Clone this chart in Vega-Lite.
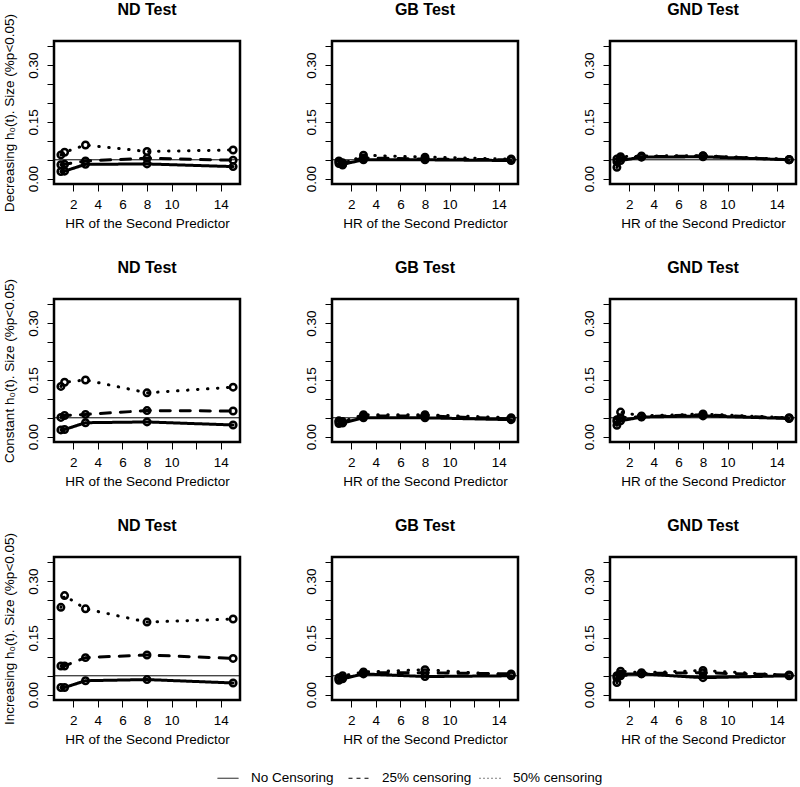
{
"$schema": "https://vega.github.io/schema/vega-lite/v6.json",
"background": "white",
"padding": {"left": 0, "top": 0, "right": 2, "bottom": 2},
"autosize": {"type": "pad"},
"bounds": "flush",
"spacing": {"row": 115, "column": 92},
"columns": 3,
"datasets": {
"d": [
{"b":"Decreasing","t":"ND","c":"No Censoring","x":1,"y":0.019},{"b":"Decreasing","t":"ND","c":"No Censoring","x":1.3,"y":0.020},{"b":"Decreasing","t":"ND","c":"No Censoring","x":3,"y":0.038},{"b":"Decreasing","t":"ND","c":"No Censoring","x":8,"y":0.039},{"b":"Decreasing","t":"ND","c":"No Censoring","x":15,"y":0.032},
{"b":"Decreasing","t":"ND","c":"25% censoring","x":1,"y":0.037},{"b":"Decreasing","t":"ND","c":"25% censoring","x":1.3,"y":0.038},{"b":"Decreasing","t":"ND","c":"25% censoring","x":3,"y":0.047},{"b":"Decreasing","t":"ND","c":"25% censoring","x":8,"y":0.054},{"b":"Decreasing","t":"ND","c":"25% censoring","x":15,"y":0.049},
{"b":"Decreasing","t":"ND","c":"50% censoring","x":1,"y":0.063},{"b":"Decreasing","t":"ND","c":"50% censoring","x":1.3,"y":0.070},{"b":"Decreasing","t":"ND","c":"50% censoring","x":3,"y":0.089},{"b":"Decreasing","t":"ND","c":"50% censoring","x":8,"y":0.072},{"b":"Decreasing","t":"ND","c":"50% censoring","x":15,"y":0.076},
{"b":"Decreasing","t":"GB","c":"No Censoring","x":1,"y":0.040},{"b":"Decreasing","t":"GB","c":"No Censoring","x":1.3,"y":0.038},{"b":"Decreasing","t":"GB","c":"No Censoring","x":3,"y":0.050},{"b":"Decreasing","t":"GB","c":"No Censoring","x":8,"y":0.050},{"b":"Decreasing","t":"GB","c":"No Censoring","x":15,"y":0.048},
{"b":"Decreasing","t":"GB","c":"25% censoring","x":1,"y":0.045},{"b":"Decreasing","t":"GB","c":"25% censoring","x":1.3,"y":0.042},{"b":"Decreasing","t":"GB","c":"25% censoring","x":3,"y":0.055},{"b":"Decreasing","t":"GB","c":"25% censoring","x":8,"y":0.052},{"b":"Decreasing","t":"GB","c":"25% censoring","x":15,"y":0.050},
{"b":"Decreasing","t":"GB","c":"50% censoring","x":1,"y":0.047},{"b":"Decreasing","t":"GB","c":"50% censoring","x":1.3,"y":0.036},{"b":"Decreasing","t":"GB","c":"50% censoring","x":3,"y":0.062},{"b":"Decreasing","t":"GB","c":"50% censoring","x":8,"y":0.057},{"b":"Decreasing","t":"GB","c":"50% censoring","x":15,"y":0.052},
{"b":"Decreasing","t":"GND","c":"No Censoring","x":1,"y":0.030},{"b":"Decreasing","t":"GND","c":"No Censoring","x":1.3,"y":0.048},{"b":"Decreasing","t":"GND","c":"No Censoring","x":3,"y":0.057},{"b":"Decreasing","t":"GND","c":"No Censoring","x":8,"y":0.058},{"b":"Decreasing","t":"GND","c":"No Censoring","x":15,"y":0.050},
{"b":"Decreasing","t":"GND","c":"25% censoring","x":1,"y":0.045},{"b":"Decreasing","t":"GND","c":"25% censoring","x":1.3,"y":0.055},{"b":"Decreasing","t":"GND","c":"25% censoring","x":3,"y":0.058},{"b":"Decreasing","t":"GND","c":"25% censoring","x":8,"y":0.060},{"b":"Decreasing","t":"GND","c":"25% censoring","x":15,"y":0.050},
{"b":"Decreasing","t":"GND","c":"50% censoring","x":1,"y":0.052},{"b":"Decreasing","t":"GND","c":"50% censoring","x":1.3,"y":0.058},{"b":"Decreasing","t":"GND","c":"50% censoring","x":3,"y":0.060},{"b":"Decreasing","t":"GND","c":"50% censoring","x":8,"y":0.061},{"b":"Decreasing","t":"GND","c":"50% censoring","x":15,"y":0.051},
{"b":"Constant","t":"ND","c":"No Censoring","x":1,"y":0.018},{"b":"Constant","t":"ND","c":"No Censoring","x":1.3,"y":0.019},{"b":"Constant","t":"ND","c":"No Censoring","x":3,"y":0.037},{"b":"Constant","t":"ND","c":"No Censoring","x":8,"y":0.039},{"b":"Constant","t":"ND","c":"No Censoring","x":15,"y":0.031},
{"b":"Constant","t":"ND","c":"25% censoring","x":1,"y":0.051},{"b":"Constant","t":"ND","c":"25% censoring","x":1.3,"y":0.056},{"b":"Constant","t":"ND","c":"25% censoring","x":3,"y":0.059},{"b":"Constant","t":"ND","c":"25% censoring","x":8,"y":0.069},{"b":"Constant","t":"ND","c":"25% censoring","x":15,"y":0.068},
{"b":"Constant","t":"ND","c":"50% censoring","x":1,"y":0.133},{"b":"Constant","t":"ND","c":"50% censoring","x":1.3,"y":0.144},{"b":"Constant","t":"ND","c":"50% censoring","x":3,"y":0.150},{"b":"Constant","t":"ND","c":"50% censoring","x":8,"y":0.116},{"b":"Constant","t":"ND","c":"50% censoring","x":15,"y":0.131},
{"b":"Constant","t":"GB","c":"No Censoring","x":1,"y":0.035},{"b":"Constant","t":"GB","c":"No Censoring","x":1.3,"y":0.036},{"b":"Constant","t":"GB","c":"No Censoring","x":3,"y":0.050},{"b":"Constant","t":"GB","c":"No Censoring","x":8,"y":0.050},{"b":"Constant","t":"GB","c":"No Censoring","x":15,"y":0.045},
{"b":"Constant","t":"GB","c":"25% censoring","x":1,"y":0.040},{"b":"Constant","t":"GB","c":"25% censoring","x":1.3,"y":0.038},{"b":"Constant","t":"GB","c":"25% censoring","x":3,"y":0.055},{"b":"Constant","t":"GB","c":"25% censoring","x":8,"y":0.055},{"b":"Constant","t":"GB","c":"25% censoring","x":15,"y":0.047},
{"b":"Constant","t":"GB","c":"50% censoring","x":1,"y":0.042},{"b":"Constant","t":"GB","c":"50% censoring","x":1.3,"y":0.040},{"b":"Constant","t":"GB","c":"50% censoring","x":3,"y":0.058},{"b":"Constant","t":"GB","c":"50% censoring","x":8,"y":0.058},{"b":"Constant","t":"GB","c":"50% censoring","x":15,"y":0.050},
{"b":"Constant","t":"GND","c":"No Censoring","x":1,"y":0.030},{"b":"Constant","t":"GND","c":"No Censoring","x":1.3,"y":0.042},{"b":"Constant","t":"GND","c":"No Censoring","x":3,"y":0.052},{"b":"Constant","t":"GND","c":"No Censoring","x":8,"y":0.055},{"b":"Constant","t":"GND","c":"No Censoring","x":15,"y":0.048},
{"b":"Constant","t":"GND","c":"25% censoring","x":1,"y":0.040},{"b":"Constant","t":"GND","c":"25% censoring","x":1.3,"y":0.050},{"b":"Constant","t":"GND","c":"25% censoring","x":3,"y":0.053},{"b":"Constant","t":"GND","c":"25% censoring","x":8,"y":0.058},{"b":"Constant","t":"GND","c":"25% censoring","x":15,"y":0.049},
{"b":"Constant","t":"GND","c":"50% censoring","x":1,"y":0.045},{"b":"Constant","t":"GND","c":"50% censoring","x":1.3,"y":0.065},{"b":"Constant","t":"GND","c":"50% censoring","x":3,"y":0.055},{"b":"Constant","t":"GND","c":"50% censoring","x":8,"y":0.060},{"b":"Constant","t":"GND","c":"50% censoring","x":15,"y":0.050},
{"b":"Increasing","t":"ND","c":"No Censoring","x":1,"y":0.019},{"b":"Increasing","t":"ND","c":"No Censoring","x":1.3,"y":0.019},{"b":"Increasing","t":"ND","c":"No Censoring","x":3,"y":0.037},{"b":"Increasing","t":"ND","c":"No Censoring","x":8,"y":0.040},{"b":"Increasing","t":"ND","c":"No Censoring","x":15,"y":0.031},
{"b":"Increasing","t":"ND","c":"25% censoring","x":1,"y":0.076},{"b":"Increasing","t":"ND","c":"25% censoring","x":1.3,"y":0.076},{"b":"Increasing","t":"ND","c":"25% censoring","x":3,"y":0.098},{"b":"Increasing","t":"ND","c":"25% censoring","x":8,"y":0.105},{"b":"Increasing","t":"ND","c":"25% censoring","x":15,"y":0.096},
{"b":"Increasing","t":"ND","c":"50% censoring","x":1,"y":0.231},{"b":"Increasing","t":"ND","c":"50% censoring","x":1.3,"y":0.262},{"b":"Increasing","t":"ND","c":"50% censoring","x":3,"y":0.227},{"b":"Increasing","t":"ND","c":"50% censoring","x":8,"y":0.192},{"b":"Increasing","t":"ND","c":"50% censoring","x":15,"y":0.200},
{"b":"Increasing","t":"GB","c":"No Censoring","x":1,"y":0.038},{"b":"Increasing","t":"GB","c":"No Censoring","x":1.3,"y":0.042},{"b":"Increasing","t":"GB","c":"No Censoring","x":3,"y":0.055},{"b":"Increasing","t":"GB","c":"No Censoring","x":8,"y":0.048},{"b":"Increasing","t":"GB","c":"No Censoring","x":15,"y":0.050},
{"b":"Increasing","t":"GB","c":"25% censoring","x":1,"y":0.042},{"b":"Increasing","t":"GB","c":"25% censoring","x":1.3,"y":0.045},{"b":"Increasing","t":"GB","c":"25% censoring","x":3,"y":0.058},{"b":"Increasing","t":"GB","c":"25% censoring","x":8,"y":0.058},{"b":"Increasing","t":"GB","c":"25% censoring","x":15,"y":0.055},
{"b":"Increasing","t":"GB","c":"50% censoring","x":1,"y":0.045},{"b":"Increasing","t":"GB","c":"50% censoring","x":1.3,"y":0.050},{"b":"Increasing","t":"GB","c":"50% censoring","x":3,"y":0.060},{"b":"Increasing","t":"GB","c":"50% censoring","x":8,"y":0.066},{"b":"Increasing","t":"GB","c":"50% censoring","x":15,"y":0.052},
{"b":"Increasing","t":"GND","c":"No Censoring","x":1,"y":0.032},{"b":"Increasing","t":"GND","c":"No Censoring","x":1.3,"y":0.055},{"b":"Increasing","t":"GND","c":"No Censoring","x":3,"y":0.055},{"b":"Increasing","t":"GND","c":"No Censoring","x":8,"y":0.045},{"b":"Increasing","t":"GND","c":"No Censoring","x":15,"y":0.050},
{"b":"Increasing","t":"GND","c":"25% censoring","x":1,"y":0.045},{"b":"Increasing","t":"GND","c":"25% censoring","x":1.3,"y":0.050},{"b":"Increasing","t":"GND","c":"25% censoring","x":3,"y":0.056},{"b":"Increasing","t":"GND","c":"25% censoring","x":8,"y":0.058},{"b":"Increasing","t":"GND","c":"25% censoring","x":15,"y":0.052},
{"b":"Increasing","t":"GND","c":"50% censoring","x":1,"y":0.050},{"b":"Increasing","t":"GND","c":"50% censoring","x":1.3,"y":0.062},{"b":"Increasing","t":"GND","c":"50% censoring","x":3,"y":0.058},{"b":"Increasing","t":"GND","c":"50% censoring","x":8,"y":0.064},{"b":"Increasing","t":"GND","c":"50% censoring","x":15,"y":0.051}
],
"ref": [{"y": 0.05}]
},
"concat": [
{"width":186,"height":143,"title":{"text":"ND Test","offset":-5},"data":{"name":"d"},"transform":[{"filter":"datum.b=='Decreasing' && datum.t=='ND'"}],
 "layer":[
  {"data":{"name":"ref"},"mark":{"type":"rule","color":"black","strokeWidth":1},"encoding":{"y":{"field":"y","type":"quantitative","scale":{"domain":[-0.014,0.364],"nice":false,"zero":false},"axis":{"title":"Decreasing h₀(t). Size (%p<0.05)","values":[0,0.05,0.1,0.15,0.2,0.25,0.3,0.35],"tickCount":50,"format":".2f","labelOverlap":false,"labelExpr":"(datum.label=='0.00'||datum.label=='0.15'||datum.label=='0.30')?datum.label:''"}}}},
  {"mark":{"type":"line","color":"black","strokeWidth":3,"strokeCap":"round"},"encoding":{"x":{"field":"x","type":"quantitative","scale":{"domain":[0.44,15.56],"nice":false,"zero":false},"axis":{"title":"HR of the Second Predictor","values":[2,4,6,8,10,12,14],"tickCount":50,"format":"d","labelOverlap":false,"labelExpr":"datum.value==12?'':datum.label"}},"y":{"field":"y","type":"quantitative"},"detail":{"field":"c"},"strokeDash":{"condition":[{"test":"datum.c=='25% censoring'","value":[10,10]},{"test":"datum.c=='50% censoring'","value":[0.5,9.5]}],"value":[1,0]}}},
  {"mark":{"type":"point","shape":"circle","filled":false,"size":42,"strokeWidth":2.5,"color":"black","opacity":1},"encoding":{"x":{"field":"x","type":"quantitative"},"y":{"field":"y","type":"quantitative"}}},
  {"transform":[{"filter":"datum.x>1000"}],"mark":{"type":"line","color":"black","strokeWidth":1},"encoding":{"x":{"field":"x","type":"quantitative"},"y":{"field":"y","type":"quantitative"},"strokeDash":{"field":"c","type":"nominal","scale":{"domain":["No Censoring","25% censoring","50% censoring"],"range":[[1,0],[4,4],[1,3]]},"legend":{"title":null,"orient":"none","direction":"horizontal","legendX":163,"legendY":726,"symbolType":"stroke","symbolSize":441,"symbolStrokeWidth":1,"symbolStrokeColor":"black","labelFont":"Liberation Sans","labelFontSize":13.5,"labelColor":"black","labelOffset":12,"columnPadding":5,"gridAlign":"all","padding":0}}}}
 ]},
{"width":186,"height":143,"title":"GB Test","data":{"name":"d"},"transform":[{"filter":"datum.b=='Decreasing' && datum.t=='GB'"}],
 "layer":[
  {"data":{"name":"ref"},"mark":{"type":"rule","color":"black","strokeWidth":1},"encoding":{"y":{"field":"y","type":"quantitative","scale":{"domain":[-0.014,0.364],"nice":false,"zero":false},"axis":{"title":null,"values":[0,0.05,0.1,0.15,0.2,0.25,0.3,0.35],"tickCount":50,"format":".2f","labelOverlap":false,"labelExpr":"(datum.label=='0.00'||datum.label=='0.15'||datum.label=='0.30')?datum.label:''"}}}},
  {"mark":{"type":"line","color":"black","strokeWidth":3,"strokeCap":"round"},"encoding":{"x":{"field":"x","type":"quantitative","scale":{"domain":[0.44,15.56],"nice":false,"zero":false},"axis":{"title":"HR of the Second Predictor","values":[2,4,6,8,10,12,14],"tickCount":50,"format":"d","labelOverlap":false,"labelExpr":"datum.value==12?'':datum.label"}},"y":{"field":"y","type":"quantitative"},"detail":{"field":"c"},"strokeDash":{"condition":[{"test":"datum.c=='25% censoring'","value":[10,10]},{"test":"datum.c=='50% censoring'","value":[0.5,9.5]}],"value":[1,0]}}},
  {"mark":{"type":"point","shape":"circle","filled":false,"size":42,"strokeWidth":2.5,"color":"black","opacity":1},"encoding":{"x":{"field":"x","type":"quantitative"},"y":{"field":"y","type":"quantitative"}}}
 ]},
{"width":186,"height":143,"title":"GND Test","data":{"name":"d"},"transform":[{"filter":"datum.b=='Decreasing' && datum.t=='GND'"}],
 "layer":[
  {"data":{"name":"ref"},"mark":{"type":"rule","color":"black","strokeWidth":1},"encoding":{"y":{"field":"y","type":"quantitative","scale":{"domain":[-0.014,0.364],"nice":false,"zero":false},"axis":{"title":null,"values":[0,0.05,0.1,0.15,0.2,0.25,0.3,0.35],"tickCount":50,"format":".2f","labelOverlap":false,"labelExpr":"(datum.label=='0.00'||datum.label=='0.15'||datum.label=='0.30')?datum.label:''"}}}},
  {"mark":{"type":"line","color":"black","strokeWidth":3,"strokeCap":"round"},"encoding":{"x":{"field":"x","type":"quantitative","scale":{"domain":[0.44,15.56],"nice":false,"zero":false},"axis":{"title":"HR of the Second Predictor","values":[2,4,6,8,10,12,14],"tickCount":50,"format":"d","labelOverlap":false,"labelExpr":"datum.value==12?'':datum.label"}},"y":{"field":"y","type":"quantitative"},"detail":{"field":"c"},"strokeDash":{"condition":[{"test":"datum.c=='25% censoring'","value":[10,10]},{"test":"datum.c=='50% censoring'","value":[0.5,9.5]}],"value":[1,0]}}},
  {"mark":{"type":"point","shape":"circle","filled":false,"size":42,"strokeWidth":2.5,"color":"black","opacity":1},"encoding":{"x":{"field":"x","type":"quantitative"},"y":{"field":"y","type":"quantitative"}}}
 ]},
{"width":186,"height":143,"title":{"text":"ND Test","offset":3},"data":{"name":"d"},"transform":[{"filter":"datum.b=='Constant' && datum.t=='ND'"}],
 "layer":[
  {"data":{"name":"ref"},"mark":{"type":"rule","color":"black","strokeWidth":1},"encoding":{"y":{"field":"y","type":"quantitative","scale":{"domain":[-0.014,0.364],"nice":false,"zero":false},"axis":{"title":"Constant h₀(t). Size (%p<0.05)","values":[0,0.05,0.1,0.15,0.2,0.25,0.3,0.35],"tickCount":50,"format":".2f","labelOverlap":false,"labelExpr":"(datum.label=='0.00'||datum.label=='0.15'||datum.label=='0.30')?datum.label:''"}}}},
  {"mark":{"type":"line","color":"black","strokeWidth":3,"strokeCap":"round"},"encoding":{"x":{"field":"x","type":"quantitative","scale":{"domain":[0.44,15.56],"nice":false,"zero":false},"axis":{"title":"HR of the Second Predictor","values":[2,4,6,8,10,12,14],"tickCount":50,"format":"d","labelOverlap":false,"labelExpr":"datum.value==12?'':datum.label"}},"y":{"field":"y","type":"quantitative"},"detail":{"field":"c"},"strokeDash":{"condition":[{"test":"datum.c=='25% censoring'","value":[10,10]},{"test":"datum.c=='50% censoring'","value":[0.5,9.5]}],"value":[1,0]}}},
  {"mark":{"type":"point","shape":"circle","filled":false,"size":42,"strokeWidth":2.5,"color":"black","opacity":1},"encoding":{"x":{"field":"x","type":"quantitative"},"y":{"field":"y","type":"quantitative"}}}
 ]},
{"width":186,"height":143,"title":"GB Test","data":{"name":"d"},"transform":[{"filter":"datum.b=='Constant' && datum.t=='GB'"}],
 "layer":[
  {"data":{"name":"ref"},"mark":{"type":"rule","color":"black","strokeWidth":1},"encoding":{"y":{"field":"y","type":"quantitative","scale":{"domain":[-0.014,0.364],"nice":false,"zero":false},"axis":{"title":null,"values":[0,0.05,0.1,0.15,0.2,0.25,0.3,0.35],"tickCount":50,"format":".2f","labelOverlap":false,"labelExpr":"(datum.label=='0.00'||datum.label=='0.15'||datum.label=='0.30')?datum.label:''"}}}},
  {"mark":{"type":"line","color":"black","strokeWidth":3,"strokeCap":"round"},"encoding":{"x":{"field":"x","type":"quantitative","scale":{"domain":[0.44,15.56],"nice":false,"zero":false},"axis":{"title":"HR of the Second Predictor","values":[2,4,6,8,10,12,14],"tickCount":50,"format":"d","labelOverlap":false,"labelExpr":"datum.value==12?'':datum.label"}},"y":{"field":"y","type":"quantitative"},"detail":{"field":"c"},"strokeDash":{"condition":[{"test":"datum.c=='25% censoring'","value":[10,10]},{"test":"datum.c=='50% censoring'","value":[0.5,9.5]}],"value":[1,0]}}},
  {"mark":{"type":"point","shape":"circle","filled":false,"size":42,"strokeWidth":2.5,"color":"black","opacity":1},"encoding":{"x":{"field":"x","type":"quantitative"},"y":{"field":"y","type":"quantitative"}}}
 ]},
{"width":186,"height":143,"title":"GND Test","data":{"name":"d"},"transform":[{"filter":"datum.b=='Constant' && datum.t=='GND'"}],
 "layer":[
  {"data":{"name":"ref"},"mark":{"type":"rule","color":"black","strokeWidth":1},"encoding":{"y":{"field":"y","type":"quantitative","scale":{"domain":[-0.014,0.364],"nice":false,"zero":false},"axis":{"title":null,"values":[0,0.05,0.1,0.15,0.2,0.25,0.3,0.35],"tickCount":50,"format":".2f","labelOverlap":false,"labelExpr":"(datum.label=='0.00'||datum.label=='0.15'||datum.label=='0.30')?datum.label:''"}}}},
  {"mark":{"type":"line","color":"black","strokeWidth":3,"strokeCap":"round"},"encoding":{"x":{"field":"x","type":"quantitative","scale":{"domain":[0.44,15.56],"nice":false,"zero":false},"axis":{"title":"HR of the Second Predictor","values":[2,4,6,8,10,12,14],"tickCount":50,"format":"d","labelOverlap":false,"labelExpr":"datum.value==12?'':datum.label"}},"y":{"field":"y","type":"quantitative"},"detail":{"field":"c"},"strokeDash":{"condition":[{"test":"datum.c=='25% censoring'","value":[10,10]},{"test":"datum.c=='50% censoring'","value":[0.5,9.5]}],"value":[1,0]}}},
  {"mark":{"type":"point","shape":"circle","filled":false,"size":42,"strokeWidth":2.5,"color":"black","opacity":1},"encoding":{"x":{"field":"x","type":"quantitative"},"y":{"field":"y","type":"quantitative"}}}
 ]},
{"width":186,"height":143,"title":{"text":"ND Test","offset":-2},"data":{"name":"d"},"transform":[{"filter":"datum.b=='Increasing' && datum.t=='ND'"}],
 "layer":[
  {"data":{"name":"ref"},"mark":{"type":"rule","color":"black","strokeWidth":1},"encoding":{"y":{"field":"y","type":"quantitative","scale":{"domain":[-0.014,0.364],"nice":false,"zero":false},"axis":{"title":"Increasing h₀(t). Size (%p<0.05)","values":[0,0.05,0.1,0.15,0.2,0.25,0.3,0.35],"tickCount":50,"format":".2f","labelOverlap":false,"labelExpr":"(datum.label=='0.00'||datum.label=='0.15'||datum.label=='0.30')?datum.label:''"}}}},
  {"mark":{"type":"line","color":"black","strokeWidth":3,"strokeCap":"round"},"encoding":{"x":{"field":"x","type":"quantitative","scale":{"domain":[0.44,15.56],"nice":false,"zero":false},"axis":{"title":"HR of the Second Predictor","values":[2,4,6,8,10,12,14],"tickCount":50,"format":"d","labelOverlap":false,"labelExpr":"datum.value==12?'':datum.label"}},"y":{"field":"y","type":"quantitative"},"detail":{"field":"c"},"strokeDash":{"condition":[{"test":"datum.c=='25% censoring'","value":[10,10]},{"test":"datum.c=='50% censoring'","value":[0.5,9.5]}],"value":[1,0]}}},
  {"mark":{"type":"point","shape":"circle","filled":false,"size":42,"strokeWidth":2.5,"color":"black","opacity":1},"encoding":{"x":{"field":"x","type":"quantitative"},"y":{"field":"y","type":"quantitative"}}}
 ]},
{"width":186,"height":143,"title":"GB Test","data":{"name":"d"},"transform":[{"filter":"datum.b=='Increasing' && datum.t=='GB'"}],
 "layer":[
  {"data":{"name":"ref"},"mark":{"type":"rule","color":"black","strokeWidth":1},"encoding":{"y":{"field":"y","type":"quantitative","scale":{"domain":[-0.014,0.364],"nice":false,"zero":false},"axis":{"title":null,"values":[0,0.05,0.1,0.15,0.2,0.25,0.3,0.35],"tickCount":50,"format":".2f","labelOverlap":false,"labelExpr":"(datum.label=='0.00'||datum.label=='0.15'||datum.label=='0.30')?datum.label:''"}}}},
  {"mark":{"type":"line","color":"black","strokeWidth":3,"strokeCap":"round"},"encoding":{"x":{"field":"x","type":"quantitative","scale":{"domain":[0.44,15.56],"nice":false,"zero":false},"axis":{"title":"HR of the Second Predictor","values":[2,4,6,8,10,12,14],"tickCount":50,"format":"d","labelOverlap":false,"labelExpr":"datum.value==12?'':datum.label"}},"y":{"field":"y","type":"quantitative"},"detail":{"field":"c"},"strokeDash":{"condition":[{"test":"datum.c=='25% censoring'","value":[10,10]},{"test":"datum.c=='50% censoring'","value":[0.5,9.5]}],"value":[1,0]}}},
  {"mark":{"type":"point","shape":"circle","filled":false,"size":42,"strokeWidth":2.5,"color":"black","opacity":1},"encoding":{"x":{"field":"x","type":"quantitative"},"y":{"field":"y","type":"quantitative"}}}
 ]},
{"width":186,"height":143,"title":"GND Test","data":{"name":"d"},"transform":[{"filter":"datum.b=='Increasing' && datum.t=='GND'"}],
 "layer":[
  {"data":{"name":"ref"},"mark":{"type":"rule","color":"black","strokeWidth":1},"encoding":{"y":{"field":"y","type":"quantitative","scale":{"domain":[-0.014,0.364],"nice":false,"zero":false},"axis":{"title":null,"values":[0,0.05,0.1,0.15,0.2,0.25,0.3,0.35],"tickCount":50,"format":".2f","labelOverlap":false,"labelExpr":"(datum.label=='0.00'||datum.label=='0.15'||datum.label=='0.30')?datum.label:''"}}}},
  {"mark":{"type":"line","color":"black","strokeWidth":3,"strokeCap":"round"},"encoding":{"x":{"field":"x","type":"quantitative","scale":{"domain":[0.44,15.56],"nice":false,"zero":false},"axis":{"title":"HR of the Second Predictor","values":[2,4,6,8,10,12,14],"tickCount":50,"format":"d","labelOverlap":false,"labelExpr":"datum.value==12?'':datum.label"}},"y":{"field":"y","type":"quantitative"},"detail":{"field":"c"},"strokeDash":{"condition":[{"test":"datum.c=='25% censoring'","value":[10,10]},{"test":"datum.c=='50% censoring'","value":[0.5,9.5]}],"value":[1,0]}}},
  {"mark":{"type":"point","shape":"circle","filled":false,"size":42,"strokeWidth":2.5,"color":"black","opacity":1},"encoding":{"x":{"field":"x","type":"quantitative"},"y":{"field":"y","type":"quantitative"}}}
 ]}
],
"config": {
 "font": "Liberation Sans",
 "view": {"stroke": "black", "strokeWidth": 2.5},
 "axis": {"domain": false, "grid": false, "ticks": true, "tickColor": "black", "tickWidth": 1, "tickSize": 7, "tickCount": 50, "labelOverlap": false, "labelFlush": false, "labelFont": "Liberation Sans", "labelFontSize": 13.5, "labelColor": "black", "titleFont": "Liberation Sans", "titleFontSize": 13.5, "titleFontWeight": "normal", "titleColor": "black"},
 "axisX": {"labelPadding": 6, "titlePadding": 6},
 "axisY": {"labelAngle": -90, "labelAlign": "center", "labelBaseline": "bottom", "labelPadding": 7, "titlePadding": 10},
 "title": {"font": "Liberation Sans", "fontSize": 16, "fontWeight": "bold", "color": "black", "anchor": "middle", "frame": "group", "offset": 23, "baseline": "alphabetic"}
}
}
